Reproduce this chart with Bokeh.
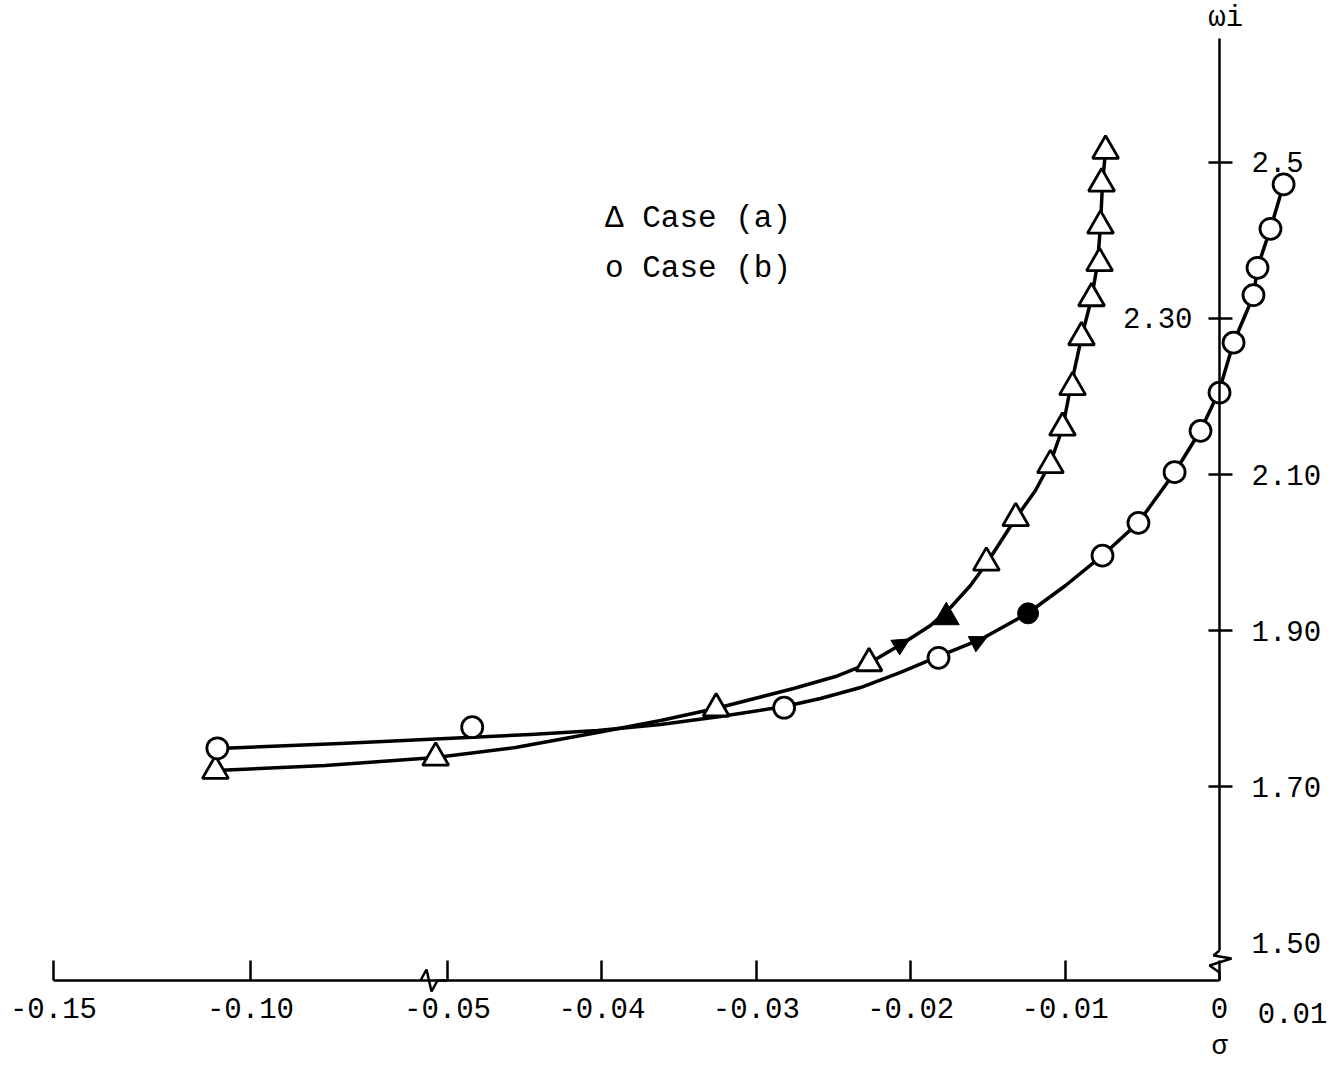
import math
from bokeh.plotting import figure
from bokeh.models import LinearAxis, FixedTicker, Range1d, Label, Arrow, NormalHead
from bokeh.embed import file_html
from bokeh.resources import INLINE

# ---------------- data ----------------
# Case (a): triangles
case_a_sigma = [-0.1089, -0.0530, -0.0326, -0.0227, -0.0151, -0.0132, -0.01095,
                -0.01017, -0.00952, -0.00894, -0.00829, -0.00777, -0.00771,
                -0.00764, -0.00738]
case_a_omega = [1.720, 1.737, 1.800, 1.858, 1.987, 2.044, 2.112, 2.160, 2.212,
                2.276, 2.326, 2.371, 2.419, 2.473, 2.515]
case_a_solid_sigma = [-0.0177]
case_a_solid_omega = [1.917]

# Case (b): circles
case_b_sigma = [-0.1084, -0.0484, -0.0282, -0.0182, -0.00758, -0.00525, -0.00291,
                -0.00123, 0.0, 0.00091, 0.00220, 0.00246, 0.00330, 0.00415]
case_b_omega = [1.749, 1.776, 1.801, 1.865, 1.996, 2.038, 2.103, 2.156, 2.205,
                2.269, 2.330, 2.365, 2.415, 2.472]
case_b_solid_sigma = [-0.0124]
case_b_solid_omega = [1.922]

# faired curves
curve_a_sigma = [-0.1089, -0.0810, -0.0530, -0.04560, -0.04028, -0.03620, -0.03264,
                 -0.02759, -0.02487, -0.02273, -0.02053, -0.01872, -0.01742,
                 -0.01613, -0.01509, -0.01321, -0.01192, -0.01095, -0.01017,
                 -0.00965, -0.00894, -0.00829, -0.00790, -0.00771, -0.00758,
                 -0.00738]
curve_a_omega = [1.7205, 1.7269, 1.7372, 1.7500, 1.7692, 1.7846, 1.8000, 1.8256,
                 1.8410, 1.8577, 1.8833, 1.9064, 1.9295, 1.9577, 1.9859, 2.0436,
                 2.0795, 2.1154, 2.1590, 2.2115, 2.2756, 2.3256, 2.3705, 2.4192,
                 2.4731, 2.5154]
curve_b_sigma = [-0.1084, -0.0772, -0.0487, -0.04462, -0.04028, -0.03620, -0.03232,
                 -0.02817, -0.02584, -0.02325, -0.02066, -0.01820, -0.01548,
                 -0.01244, -0.00997, -0.00758, -0.00525, -0.00291, -0.00123,
                 -0.00006, 0.00091, 0.00220, 0.00246, 0.00330, 0.00415]
curve_b_omega = [1.7487, 1.7551, 1.7628, 1.7667, 1.7718, 1.7795, 1.7897, 1.8026,
                 1.8128, 1.8269, 1.8462, 1.8667, 1.8885, 1.9218, 1.9577, 1.9962,
                 2.0385, 2.1026, 2.1564, 2.2051, 2.2692, 2.3295, 2.3654, 2.4154,
                 2.4718]

# direction arrows on the curves (position and on-screen heading in degrees)
arrow_sigma = [-0.0205, -0.0155]
arrow_omega = [1.884, 1.8875]
arrow_heading_deg = [31, 26]

# axes
x_ticks = [-0.15, -0.10, -0.05, -0.04, -0.03, -0.02, -0.01, 0.0]
x_tick_labels = ["-0.15", "-0.10", "-0.05", "-0.04", "-0.03", "-0.02", "-0.01", "0"]
y_ticks_right = [1.70, 1.90, 2.10, 2.50]
y_tick_labels_right = ["1.70", "1.90", "2.10", "2.5"]
y_ticks_plain = [1.50]
y_tick_labels_plain = ["1.50"]
y_ticks_left = [2.30]
y_tick_labels_left = ["2.30"]

# ---------------- broken sigma axis ----------------
BREAK = -0.05
K = 0.2552  # compression of the part left of the break


def to_u(s):
    return s if s >= BREAK else BREAK + (s - BREAK) * K


W, H = 1339, 1067
X0, X1 = -0.07895, 0.00777
Y0, Y1 = 1.339744, 2.707692
UPX = (X1 - X0) / W   # data per pixel
VPX = (Y1 - Y0) / H
V_AXIS = Y1 - 980 * VPX     # sigma axis position

FONT = "Liberation Mono"
FS = "29px"

p = figure(width=W, height=H, x_range=Range1d(X0, X1), y_range=Range1d(Y0, Y1),
           output_backend="svg", toolbar_location=None,
           x_axis_location=None, y_axis_location=None, min_border=0)
p.outline_line_color = None
p.xgrid.visible = False
p.ygrid.visible = False
p.background_fill_color = "white"
p.border_fill_color = "white"


def style(ax):
    ax.minor_tick_line_color = None
    ax.major_label_text_font = FONT
    ax.major_label_text_font_size = FS
    ax.major_label_text_color = "black"
    ax.major_tick_line_width = 2.5
    ax.axis_line_width = 2.5


# x axis
xt = [to_u(s) for s in x_ticks]
xaxis = LinearAxis(ticker=FixedTicker(ticks=xt),
                   major_label_overrides={u: l for u, l in zip(xt, x_tick_labels)},
                   fixed_location=V_AXIS, bounds=(to_u(-0.15), 0.0))
style(xaxis)
xaxis.major_tick_in = 20
xaxis.major_tick_out = 0
xaxis.major_label_standoff = 17
p.add_layout(xaxis, "below")

# y axis (right side labels) at sigma = 0
top_v = Y1 - 38 * VPX
brk_v = Y1 - 950 * VPX
yaxis = LinearAxis(ticker=FixedTicker(ticks=y_ticks_right),
                   major_label_overrides={t: l for t, l in zip(y_ticks_right, y_tick_labels_right)},
                   fixed_location=0.0, bounds=(brk_v, top_v))
style(yaxis)
yaxis.major_tick_in = 11
yaxis.major_tick_out = 13
yaxis.major_label_standoff = 19
p.add_layout(yaxis, "right")

# 1.50 label without a tick mark
yaxis_p = LinearAxis(ticker=FixedTicker(ticks=y_ticks_plain),
                     major_label_overrides={t: l for t, l in zip(y_ticks_plain, y_tick_labels_plain)},
                     fixed_location=0.0)
style(yaxis_p)
yaxis_p.axis_line_color = None
yaxis_p.major_tick_line_color = None
yaxis_p.major_tick_in = 11
yaxis_p.major_tick_out = 13
yaxis_p.major_label_standoff = 19
p.add_layout(yaxis_p, "right")

# labels on the left side of the same axis (2.30)
yaxis_l = LinearAxis(ticker=FixedTicker(ticks=y_ticks_left),
                     major_label_overrides={t: l for t, l in zip(y_ticks_left, y_tick_labels_left)},
                     fixed_location=0.0)
style(yaxis_l)
yaxis_l.axis_line_color = None
yaxis_l.major_tick_in = 13
yaxis_l.major_tick_out = 11
yaxis_l.major_label_standoff = 16
p.add_layout(yaxis_l, "left")

# axis break marks (offsets in pixels from the axis positions)
zx = [0, -6, 12, -10, 0, 0]
zy = [0, -5, -8, -15, -22, -30]
p.line([0.0 + dx * UPX for dx in zx], [brk_v + dy * VPX for dy in zy],
       line_color="black", line_width=2.5)
u05 = to_u(-0.05)
p.line([u05 - 25 * UPX, u05 - 9 * UPX], [V_AXIS, V_AXIS], line_color="white", line_width=5)
bx = [-27, -21, -16, -10, -6, 0]
by = [0, 11, -11, 0, 0, 0]
p.line([u05 + dx * UPX for dx in bx], [V_AXIS + dy * VPX for dy in by],
       line_color="black", line_width=2.5)

# curves
p.line([to_u(s) for s in curve_a_sigma], curve_a_omega, line_color="black",
       line_width=3.5, line_join="round")
p.line([to_u(s) for s in curve_b_sigma], curve_b_omega, line_color="black",
       line_width=3.5, line_join="round")

# markers
p.scatter([to_u(s) for s in case_a_sigma], case_a_omega, marker="triangle", size=26,
          fill_color="white", line_color="black", line_width=2.8)
p.scatter([to_u(s) for s in case_b_sigma], case_b_omega, marker="circle", size=21,
          fill_color="white", line_color="black", line_width=2.8)
p.scatter([to_u(s) for s in case_a_solid_sigma], case_a_solid_omega, marker="triangle",
          size=26, fill_color="black", line_color="black")
p.scatter([to_u(s) for s in case_b_solid_sigma], case_b_solid_omega, marker="circle",
          size=21, fill_color="black", line_color="black")

# direction arrows
for s, v, hd in zip(arrow_sigma, arrow_omega, arrow_heading_deg):
    c, sn = math.cos(math.radians(hd)), math.sin(math.radians(hd))
    u = to_u(s)
    p.add_layout(Arrow(x_start=u - 8 * c * UPX, y_start=v - 8 * sn * VPX,
                       x_end=u + 8 * c * UPX, y_end=v + 8 * sn * VPX,
                       line_color="black", line_width=2,
                       end=NormalHead(size=17, fill_color="black", line_color="black",
                                      line_width=1)))


# texts
def lab(txt, u, v, align="left", size=FS):
    p.add_layout(Label(x=u, y=v, text=txt, text_font=FONT, text_font_size=size,
                       text_align=align, text_baseline="middle", text_color="black"))


lab("ωi", 0.0004, Y1 - 18 * VPX, "center")
lab("σ", 0.0, Y1 - 1046 * VPX, "center", size="27px")
lab("0.01", 0.00473, Y1 - 1012 * VPX, "center")
lab("Δ Case (a)", -0.0398, Y1 - 218 * VPX, size="31px")
lab("o Case (b)", -0.0398, Y1 - 268 * VPX, size="31px")

open("out.html", "w").write(file_html(p, INLINE))
